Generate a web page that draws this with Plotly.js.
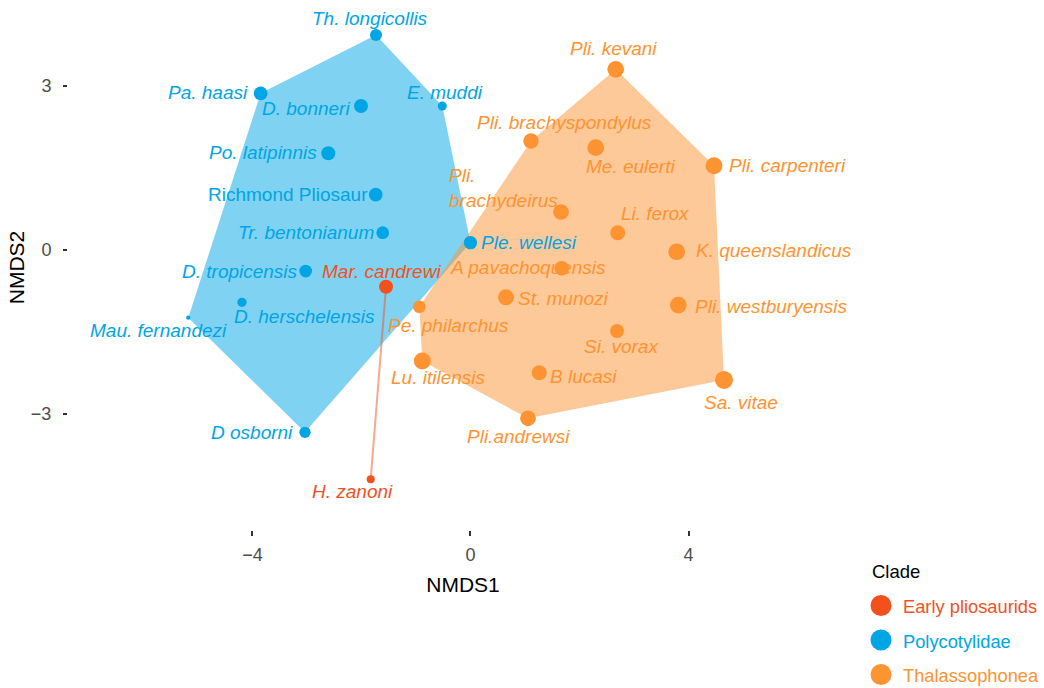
<!DOCTYPE html>
<html>
<head>
<meta charset="utf-8">
<script src="https://cdn.plot.ly/plotly-3.0.1.min.js"></script>
<style>
  html, body { margin: 0; padding: 0; background: #ffffff; }
  #chart { width: 1044px; height: 688px; }
</style>
</head>
<body>
<div id="chart"></div>
<script>
// NMDS ordination of plesiosaur taxa, grouped by clade with convex hulls.

const species = [
  "Mar. candrewi", "H. zanoni",
  "Th. longicollis", "Pa. haasi", "D. bonneri", "E. muddi", "Po. latipinnis",
  "Richmond Pliosaur", "Tr. bentonianum", "Ple. wellesi", "D. tropicensis",
  "D. herschelensis", "Mau. fernandezi", "D osborni",
  "Pli. kevani", "Pli. brachyspondylus", "Me. eulerti", "Pli. carpenteri",
  "Pli.\nbrachydeirus", "Li. ferox", "K. queenslandicus", "A pavachoquensis",
  "St. munozi", "Pe. philarchus", "Pli. westburyensis", "Si. vorax",
  "Lu. itilensis", "B lucasi", "Sa. vitae", "Pli.andrewsi"
];

const clade = [
  "Early pliosaurids", "Early pliosaurids",
  "Polycotylidae", "Polycotylidae", "Polycotylidae", "Polycotylidae", "Polycotylidae",
  "Polycotylidae", "Polycotylidae", "Polycotylidae", "Polycotylidae",
  "Polycotylidae", "Polycotylidae", "Polycotylidae",
  "Thalassophonea", "Thalassophonea", "Thalassophonea", "Thalassophonea",
  "Thalassophonea", "Thalassophonea", "Thalassophonea", "Thalassophonea",
  "Thalassophonea", "Thalassophonea", "Thalassophonea", "Thalassophonea",
  "Thalassophonea", "Thalassophonea", "Thalassophonea", "Thalassophonea"
];

const nmds1 = [
  -1.550, -1.831,
  -1.734, -3.850, -2.009, -0.517, -2.609,
  -1.739, -1.611, 0.000, -3.024,
  -4.193, -5.178, -3.037,
  2.664, 1.110, 2.297, 4.468,
  1.661, 2.701, 3.783, 1.673,
  0.651, -0.939, 3.813, 2.688,
  -0.884, 1.262, 4.651, 1.055
];

const nmds2 = [
  -0.677, -4.200,
  3.927, 2.861, 2.628, 2.628, 1.763,
  1.006, 0.311, 0.128, -0.390,
  -0.962, -1.244, -3.340,
  3.300, 1.988, 1.866, 1.536,
  0.690, 0.311, -0.037, -0.340,
  -0.871, -1.043, -1.012, -1.487,
  -2.036, -2.250, -2.383, -3.084
];

// per-taxon value shown as point diameter
const sizeValue = [
  14, 8,
  12, 13.7, 14, 9, 14,
  13.7, 12.7, 13.3, 12.7,
  9.3, 4.3, 11.3,
  16.7, 15.3, 16.7, 17,
  15.7, 15, 16.7, 14.7,
  16, 12.7, 16.7, 14,
  17, 15, 18, 15.7
];

const cladeNames = ["Early pliosaurids", "Polycotylidae", "Thalassophonea"];

// ---- styling ----
const cladeColor = {
  "Early pliosaurids": [242, 81, 29],
  "Polycotylidae": [0, 165, 229],
  "Thalassophonea": [254, 147, 50]
};
const rgb = c => `rgb(${c[0]},${c[1]},${c[2]})`;
const rgba = (c, a) => `rgba(${c[0]},${c[1]},${c[2]},${a})`;
const FONT = "Liberation Sans, Arial, Helvetica, sans-serif";

// label placement: offset of label centre from its point, in pixels (dy down)
const labelOffset = [
  [-4.3, -15.7], [-18.2, 11.7],
  [-6, -16.7], [-52.7, -0.6], [-55, 2.3], [2.4, -13.3], [-65.8, -1.3],
  [-87.7, -0.7], [-76.7, -0.4], [59, -0.4], [-65.7, 0],
  [63, 14.4], [-29.6, 13], [-52.7, 0],
  [-1.7, -20.5], [33.5, -18.3], [35.3, 19.3], [73.5, -0.7],
  [-57.3, -23.5], [38.1, -18.9], [97.3, -1.4], [-33.4, -1],
  [58, 1], [28.7, 18.3], [93.5, 1], [5, 15.3],
  [16, 16], [44.7, 4], [17.3, 23], [-9.7, 18]
];
const uprightNames = new Set(["Richmond Pliosaur"]);

// plot area in pixels
const W = 1044, H = 688;
const M = { l: 68, r: 1044 - 858, t: 5, b: 688 - 530 };
const plotW = W - M.l - M.r, plotH = H - M.t - M.b;

// convex hull (monotone chain)
function convexHull(pts) {
  const p = pts.slice().sort((a, b) => a[0] - b[0] || a[1] - b[1]);
  if (p.length < 3) return p;
  const cross = (o, a, b) => (a[0] - o[0]) * (b[1] - o[1]) - (a[1] - o[1]) * (b[0] - o[0]);
  const lower = [], upper = [];
  for (const q of p) {
    while (lower.length >= 2 && cross(lower[lower.length - 2], lower[lower.length - 1], q) <= 0) lower.pop();
    lower.push(q);
  }
  for (let i = p.length - 1; i >= 0; i--) {
    const q = p[i];
    while (upper.length >= 2 && cross(upper[upper.length - 2], upper[upper.length - 1], q) <= 0) upper.pop();
    upper.push(q);
  }
  lower.pop(); upper.pop();
  return lower.concat(upper);
}

const idxOf = name => clade.map((c, i) => c === name ? i : -1).filter(i => i >= 0);

const traces = [];

// hulls: Polycotylidae first, Thalassophonea over it, then the early pliosaurid pair
["Polycotylidae", "Thalassophonea", "Early pliosaurids"].forEach(name => {
  const ids = idxOf(name);
  const hull = convexHull(ids.map(i => [nmds1[i], nmds2[i]]));
  const col = cladeColor[name];
  if (hull.length > 2) {
    traces.push({
      type: "scatter", mode: "lines",
      x: hull.map(h => h[0]).concat([hull[0][0]]),
      y: hull.map(h => h[1]).concat([hull[0][1]]),
      fill: "toself", fillcolor: rgba(col, 0.5),
      line: { width: 0, color: rgba(col, 0) },
      hoverinfo: "skip", showlegend: false
    });
  } else {
    traces.push({
      type: "scatter", mode: "lines",
      x: hull.map(h => h[0]), y: hull.map(h => h[1]),
      line: { width: 2, color: rgba(col, 0.5) },
      hoverinfo: "skip", showlegend: false
    });
  }
});

// points
cladeNames.forEach(name => {
  const ids = idxOf(name);
  traces.push({
    type: "scatter", mode: "markers", name: name,
    x: ids.map(i => nmds1[i]), y: ids.map(i => nmds2[i]),
    text: ids.map(i => species[i].replace("\n", " ")),
    marker: { color: rgb(cladeColor[name]), size: ids.map(i => sizeValue[i]), line: { width: 0 }, opacity: 1 },
    hoverinfo: "text", showlegend: false
  });
});

// taxon labels
const annotations = species.map((s, i) => {
  const txt = s.replace("\n", "<br>");
  return {
    x: nmds1[i], y: nmds2[i], xref: "x", yref: "y",
    text: uprightNames.has(s) ? txt : "<i>" + txt + "</i>",
    showarrow: false,
    xanchor: "center", yanchor: "middle",
    align: s.includes("\n") ? "left" : "center",
    xshift: labelOffset[i][0], yshift: -labelOffset[i][1],
    font: { family: FONT, size: 19, color: rgb(cladeColor[clade[i]]) }
  };
});

// legend (drawn to the right of the panel)
const px2paperX = px => (px - M.l) / plotW;
const px2paperY = py => (H - M.b - py) / plotH;
const shapes = [];
annotations.push({
  xref: "paper", yref: "paper", x: px2paperX(870), y: px2paperY(571),
  xanchor: "left", yanchor: "middle", showarrow: false, text: "Clade",
  font: { family: FONT, size: 18.5, color: "#000000" }
});
cladeNames.forEach((name, k) => {
  const cy = 605.5 + k * 34.5;
  shapes.push({
    type: "circle", xref: "paper", yref: "paper",
    xsizemode: "pixel", ysizemode: "pixel",
    xanchor: px2paperX(881), yanchor: px2paperY(cy),
    x0: -10.5, x1: 10.5, y0: -10.5, y1: 10.5,
    fillcolor: rgb(cladeColor[name]), line: { width: 0 }
  });
  annotations.push({
    xref: "paper", yref: "paper", x: px2paperX(900.5), y: px2paperY(cy + 1),
    xanchor: "left", yanchor: "middle", showarrow: false, text: name,
    font: { family: FONT, size: 18.3, color: rgb(cladeColor[name]) }
  });
});

const layout = {
  width: W, height: H,
  margin: M,
  paper_bgcolor: "#ffffff", plot_bgcolor: "#ffffff",
  showlegend: false,
  font: { family: FONT, size: 18, color: "#4d4d4d" },
  xaxis: {
    range: [-7.385, 7.110],
    tickvals: [-4, 0, 4],
    showgrid: false, zeroline: false, showline: false,
    ticks: "outside", ticklen: 5, tickwidth: 1.6, tickcolor: "#333333",
    ticklabelstandoff: 3,
    tickfont: { family: FONT, size: 18, color: "#4d4d4d" },
    title: { text: "NMDS1", font: { family: FONT, size: 21, color: "#000000" }, standoff: 13 }
  },
  yaxis: {
    range: [-5.127, 4.476],
    tickvals: [-3, 0, 3],
    showgrid: false, zeroline: false, showline: false,
    ticks: "outside", ticklen: 4, tickwidth: 1.6, tickcolor: "#333333",
    ticklabelstandoff: 8,
    tickfont: { family: FONT, size: 18, color: "#4d4d4d" },
    title: { text: "NMDS2", font: { family: FONT, size: 21, color: "#000000" }, standoff: 0 }
  },
  annotations: annotations,
  shapes: shapes
};

Plotly.newPlot("chart", traces, layout, { displayModeBar: false, responsive: false });
</script>
</body>
</html>
